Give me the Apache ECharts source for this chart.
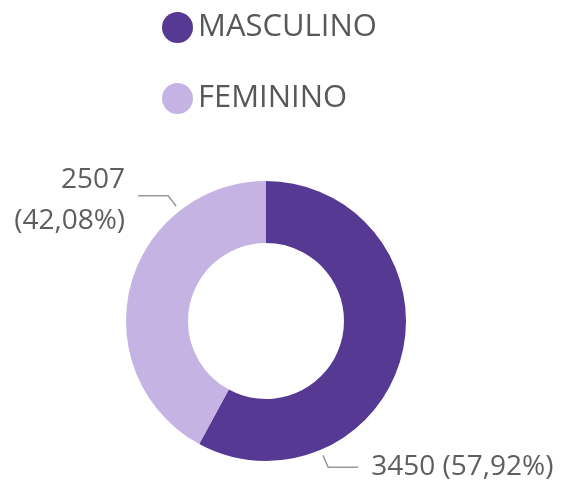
<!DOCTYPE html>
<html>
<head>
<meta charset="utf-8">
<script src="https://cdn.jsdelivr.net/npm/echarts@6/dist/echarts.min.js"></script>
<style>
  html, body { margin: 0; padding: 0; background: #fff; }
  #chart { width: 564px; height: 481px; }
</style>
</head>
<body>
<div id="chart"></div>
<script>
// data
const categories = ['MASCULINO', 'FEMININO'];
const values = [3450, 2507];
const colors = ['#553993', '#c5b4e3'];

// donut geometry
const CX = 266, CY = 321, R_IN = 78, R_OUT = 140;
// where the leader lines leave the ring (degrees clockwise from 12 o'clock)
const leaderAngles = [157, 322];

const fmtPct = p => p.toFixed(2).replace('.', ',');

const chart = echarts.init(document.getElementById('chart'));

chart.setOption({
  animation: false,
  textStyle: { fontFamily: 'Open Sans' },
  legend: {
    orient: 'vertical',
    left: 162,
    top: 12,
    padding: 0,
    icon: 'circle',
    itemWidth: 31,
    itemHeight: 31,
    itemGap: 40,
    data: categories,
    textStyle: { fontSize: 31, lineHeight: 31, color: '#585858', fontFamily: 'Open Sans' }
  },
  series: [{
    type: 'pie',
    center: [CX, CY],
    radius: [R_IN, R_OUT],
    startAngle: 90,
    clockwise: true,
    avoidLabelOverlap: false,
    data: categories.map((name, i) => ({
      name: name,
      value: values[i],
      itemStyle: { color: colors[i] }
    })),
    label: {
      show: true,
      color: '#605e5c',
      fontSize: 28,
      lineHeight: 41,
      fontFamily: 'Open Sans',
      formatter: p => p.dataIndex === 1
        ? p.value + '\n(' + fmtPct(p.percent) + '%)'
        : p.value + ' (' + fmtPct(p.percent) + '%)'
    },
    labelLine: {
      show: true,
      lineStyle: { color: '#9a9896', width: 1.5 }
    },
    labelLayout: function (params) {
      const a = leaderAngles[params.dataIndex] * Math.PI / 180;
      const s = Math.sin(a), c = -Math.cos(a);
      const p0 = [CX + (R_OUT + 6) * s, CY + (R_OUT + 6) * c];
      const p1 = [CX + (R_OUT + 19) * s, CY + (R_OUT + 19) * c];
      const side = s >= 0 ? 1 : -1;
      const p2 = [p1[0] + side * 30, p1[1]];
      return {
        x: p2[0] + side * 13,
        y: p2[1] + (side < 0 ? 5 : 0),
        align: side > 0 ? 'left' : 'right',
        verticalAlign: 'middle',
        labelLinePoints: [p0, p1, p2]
      };
    }
  }]
});
</script>
</body>
</html>
